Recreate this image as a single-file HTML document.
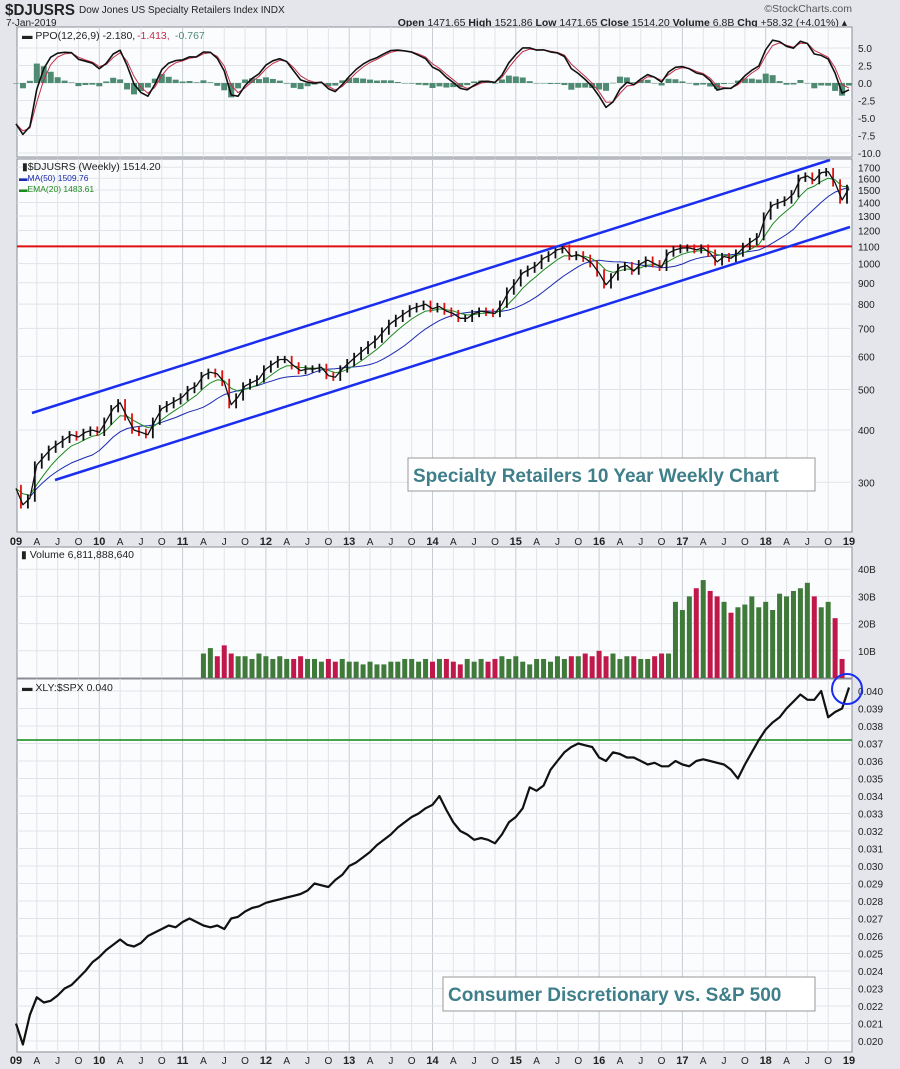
<!DOCTYPE html>
<html><head><meta charset="utf-8">
<style>
body{margin:0;background:#e4e6ec;font-family:"Liberation Sans",sans-serif;}
svg{display:block}
text{font-family:"Liberation Sans",sans-serif;}
</style></head>
<body>
<svg id="chart" width="900" height="1069" viewBox="0 0 900 1069" xmlns="http://www.w3.org/2000/svg">
<rect x="0" y="0" width="900" height="1069" fill="#e4e6ec"/>
<text x="5" y="15" font-size="16" font-weight="bold" fill="#222" textLength="70" lengthAdjust="spacingAndGlyphs">$DJUSRS</text>
<text x="79" y="13" font-size="10" fill="#222">Dow Jones US Specialty Retailers Index  INDX</text>
<text x="6" y="26" font-size="10" fill="#222">7-Jan-2019</text>
<text x="852" y="12" font-size="10.5" fill="#555" text-anchor="end">©StockCharts.com</text>
<text x="847" y="26" font-size="10.5" fill="#222" text-anchor="end"><tspan font-weight="bold">Open</tspan> 1471.65 <tspan font-weight="bold">High</tspan> 1521.86 <tspan font-weight="bold">Low</tspan> 1471.65 <tspan font-weight="bold">Close</tspan> 1514.20 <tspan font-weight="bold">Volume</tspan> 6.8B <tspan font-weight="bold">Chg</tspan> +58.32 (+4.01%) ▴</text>
<g id="panels"></g>
</svg>
<script>
const years = [2009,2010,2011,2012,2013,2014,2015,2016,2017,2018,2019];
const priceClose = [
290,265,275,330,345,360,370,380,390,385,395,400,
395,420,450,465,430,400,395,390,420,450,460,470,
480,500,510,540,550,545,520,460,480,510,520,530,
560,575,590,590,570,555,560,560,565,540,535,560,
580,600,620,640,660,690,720,740,760,780,790,800,
780,790,770,760,740,740,760,770,765,760,800,860,
900,950,970,990,1030,1050,1080,1090,1040,1050,1030,1000,
950,890,930,980,990,960,1000,1020,1000,980,1060,1080,
1090,1090,1080,1090,1060,1010,1040,1030,1060,1100,1130,1160,
1300,1380,1400,1420,1470,1600,1620,1580,1650,1660,1560,1420,
1514];
const volumeB = [ // Apr 2011 .. Jan 2019, billions
9,11,8,12,9,8,8,7,
9,8,7,8,7,7,8,7,7,6,7,6,
7,6,6,5,6,5,5,6,6,7,7,6,
7,6,7,7,6,5,7,6,7,6,7,8,
7,8,6,5,7,7,6,8,7,8,8,9,
8,10,8,9,7,8,8,7,7,8,9,9,
28,25,30,33,36,32,30,28,24,26,27,30,
26,28,25,31,30,32,33,35,30,26,28,22,
7];
const volStart = 2011 + 3/12;
const ratio = [
0.0210,0.0198,0.0215,0.0225,0.0222,0.0223,0.0226,0.0230,0.0232,0.0236,0.0240,0.0245,
0.0248,0.0252,0.0255,0.0258,0.0255,0.0254,0.0256,0.0260,0.0262,0.0264,0.0266,0.0265,
0.0268,0.0270,0.0268,0.0266,0.0265,0.0266,0.0264,0.0270,0.0271,0.0274,0.0276,0.0277,
0.0279,0.0280,0.0281,0.0282,0.0283,0.0284,0.0286,0.0290,0.0289,0.0288,0.0292,0.0295,
0.0300,0.0302,0.0305,0.0308,0.0312,0.0315,0.0318,0.0322,0.0325,0.0328,0.0330,0.0333,
0.0335,0.0340,0.0332,0.0325,0.0320,0.0318,0.0315,0.0316,0.0315,0.0313,0.0318,0.0325,
0.0328,0.0333,0.0345,0.0343,0.0346,0.0355,0.0360,0.0365,0.0368,0.0370,0.0369,0.0368,
0.0362,0.0360,0.0365,0.0364,0.0362,0.0362,0.0360,0.0358,0.0359,0.0357,0.0357,0.0360,
0.0358,0.0357,0.0360,0.0361,0.0360,0.0359,0.0358,0.0355,0.0350,0.0358,0.0365,0.0372,
0.0378,0.0382,0.0385,0.0390,0.0394,0.0398,0.0395,0.0395,0.0400,0.0385,0.0388,0.0390,
0.0402];
const priceTicks = [300,400,500,600,700,800,900,1000,1100,1200,1300,1400,1500,1600,1700];
const ppoTicks = [5,2.5,0,-2.5,-5,-7.5,-10];
const volTicks = [10,20,30,40];
const ratioTicks = [];
for(let i=20;i<=40;i++) ratioTicks.push(i/1000);

const NS="http://www.w3.org/2000/svg";
const G=document.getElementById('panels');
function mk(tag,attrs,parent){const e=document.createElementNS(NS,tag);for(const k in attrs)e.setAttribute(k,attrs[k]);(parent||G).appendChild(e);return e;}
const L=17,R=852;
const xT=t=>16+(t-2009)*83.3;
const xI=i=>xT(2009+i/12);
const P={ppo:[27,157],price:[159,532],vol:[547,678],rat:[679,1052]};
const yPpo=v=>83-v*7;
const yPrice=p=>482.3-181.6*Math.log(p/300);
const yVol=v=>678-v*2.72;
const yRat=v=>691+(0.040-v)*17500;

function panel(name,[t,b]){
  const r=mk('rect',{x:L,y:t,width:R-L,height:b-t,fill:'#fbfcfe',stroke:'#8a8d96','stroke-width':1});
  
  
  for(let y=2009;y<2019;y++)for(let q=0;q<4;q++){
    const x=xT(y+q/4); if(x<=L||x>=R) continue;
    const l=mk('line',{x1:x,x2:x,y1:t,y2:b,stroke:q==0?'#c9ccd3':'#e1e3e8','stroke-width':1});
    
    
  }
}
function hTick(v,y,label,t,b,name){
  if(y<t||y>b) return;
  const l=mk('line',{x1:L,x2:R,y1:y,y2:y,stroke:'#e1e3e8','stroke-width':1});
  
  
  const tx=mk('text',{x:R+6,y:y+4,'font-size':10,fill:'#222'});tx.textContent=label;
  
  
}
function poly(pts,stroke,w,name){
  const e=mk('polyline',{points:pts.map(p=>p[0].toFixed(1)+','+p[1].toFixed(1)).join(' '),fill:'none',stroke:stroke,'stroke-width':w,'stroke-linejoin':'round'});
  
  
  return e;
}
function label(x,y,txt,name,size,color,weight){
  const e=mk('text',{x:x,y:y,'font-size':size||10.5,fill:color||'#222','font-weight':weight||'normal'});e.textContent=txt;
  
  
  return e;
}
function ema(arr,n){const k=2/(n+1);const o=[];arr.forEach((v,i)=>o.push(i?v*k+o[i-1]*(1-k):v));return o;}
function sma(arr,n){return arr.map((v,i)=>{const s=arr.slice(Math.max(0,i-n+1),i+1);return s.reduce((a,b)=>a+b,0)/s.length;});}

// ---- PPO panel
panel('ppo',P.ppo);
ppoTicks.forEach(v=>hTick(v,yPpo(v),v.toFixed(1),P.ppo[0]+3,P.ppo[1],'ppo'));
const seed=priceClose[0]*1.12;
const e1=ema([seed].concat(priceClose),3).slice(1),e2=ema([seed*1.05].concat(priceClose),6).slice(1);
const ppo=priceClose.map((v,i)=>(e1[i]-e2[i])/e2[i]*100);
const sig=ema(ppo,2);
ppo.forEach((v,i)=>{
  const h=v-sig[i];const y0=yPpo(0),y1=yPpo(h*1.5);
  const r=mk('rect',{x:xI(i)-3,y:Math.min(y0,y1),width:6,height:Math.max(0.5,Math.abs(y1-y0)),fill:'#4f8a72'});
  
  
});
poly(sig.map((v,i)=>[xI(i),yPpo(v)]),'#c0304a',1,'ppo-signal-line');
poly(ppo.map((v,i)=>[xI(i),yPpo(v)]),'#111',1.6,'ppo-line');
label(22,39,'▬ PPO(12,26,9) -2.180,','ppo-legend',10.5);
label(137,39,'-1.413,','ppo-legend-signal',10.5,'#c0304a');
label(175,39,'-0.767','ppo-legend-hist',10.5,'#4f8a72');

// ---- price panel
panel('price',P.price);
priceTicks.forEach(v=>hTick(v,yPrice(v),String(v),P.price[0]+3,P.price[1],'price'));
const hl=mk('line',{x1:L,x2:R,y1:yPrice(1100),y2:yPrice(1100),stroke:'#e01010','stroke-width':2});


const ma50=sma(priceClose,12),ema20=ema(priceClose,5);
poly(ma50.map((v,i)=>[xI(i),yPrice(v)]).slice(2),'#1a2ab0',1,'ma50-line');
poly(ema20.map((v,i)=>[xI(i),yPrice(v)]),'#1c8a1c',1,'ema20-line');
priceClose.forEach((v,i)=>{
  if(!i) return;
  const p=priceClose[i-1];const down=v<p;
  const hi=Math.max(v,p)*1.02,lo=Math.min(v,p)*0.98;
  const b=mk('line',{x1:xI(i)-2,x2:xI(i)-2,y1:yPrice(hi),y2:yPrice(lo),stroke:down?'#e01010':'#111','stroke-width':1.8});
  
  
});
poly(priceClose.map((v,i)=>[xI(i),yPrice(v)]),'#111',1.3,'price-line');
const ch1=mk('line',{x1:32,y1:413,x2:830,y2:160,stroke:'#1a2ef0','stroke-width':2.5});

const ch2=mk('line',{x1:55,y1:480,x2:850,y2:227,stroke:'#1a2ef0','stroke-width':2.5});

label(22,170,'▮$DJUSRS (Weekly) 1514.20','price-legend',10.5);
label(19,181,'▬MA(50) 1509.76','ma50-legend',8.5,'#1a2ab0');
label(19,192,'▬EMA(20) 1483.61','ema20-legend',8.5,'#1c8a1c');
const b1=mk('rect',{x:408,y:458,width:407,height:33,fill:'#fff',stroke:'#999'});

label(413,482,'Specialty Retailers 10 Year Weekly Chart','price-annotation',19,'#3f7f8a','bold');

function xAxis(y,name){
  for(let yr=2009;yr<=2019;yr++)for(let q=0;q<4;q++){
    if(yr==2019&&q>0) continue;
    const x=xT(yr+q/4);
    const t=q==0?String(yr).slice(2):['','A','J','O'][q];
    const e=mk('text',{x:x,y:y,'font-size':q==0?11:10,'font-weight':q==0?'bold':'normal',fill:'#222','text-anchor':'middle'});
    e.textContent=t;
    
    
  }
}
xAxis(545,'x-axis-label');

// ---- volume panel
panel('volume',P.vol);
volTicks.forEach(v=>hTick(v,yVol(v),v+'B',P.vol[0]+3,P.vol[1],'volume'));
volumeB.forEach((v,i)=>{
  const t=volStart+i/12;const pi=Math.round((t-2009)*12);
  const up=pi>0&&priceClose[pi]>=priceClose[pi-1];
  const x=xT(t);
  const r=mk('rect',{x:x-2.5,y:yVol(v),width:5,height:678-yVol(v),fill:up?'#3f7a3a':'#c0184a'});
  
  
});
label(21,558,'▮ Volume 6,811,888,640','volume-legend',10.5);

// ---- ratio panel
panel('ratio',P.rat);
ratioTicks.forEach(v=>hTick(v,yRat(v),v.toFixed(3),P.rat[0]+3,P.rat[1],'ratio'));
const gl=mk('line',{x1:L,x2:R,y1:yRat(0.0372),y2:yRat(0.0372),stroke:'#108a10','stroke-width':1.6});

poly(ratio.map((v,i)=>[xI(i),yRat(v)]),'#111',2.2,'ratio-line');
const c=mk('circle',{cx:847,cy:689,r:15,fill:'none',stroke:'#1a2ef0','stroke-width':2});

label(22,691,'▬ XLY:$SPX 0.040','ratio-legend',10.5);
const b2=mk('rect',{x:443,y:977,width:372,height:34,fill:'#fff',stroke:'#999'});

label(448,1001,'Consumer Discretionary vs. S&P 500','ratio-annotation',19,'#3f7f8a','bold');
xAxis(1064,'x-axis-label-bottom');
</script>
</body></html>
